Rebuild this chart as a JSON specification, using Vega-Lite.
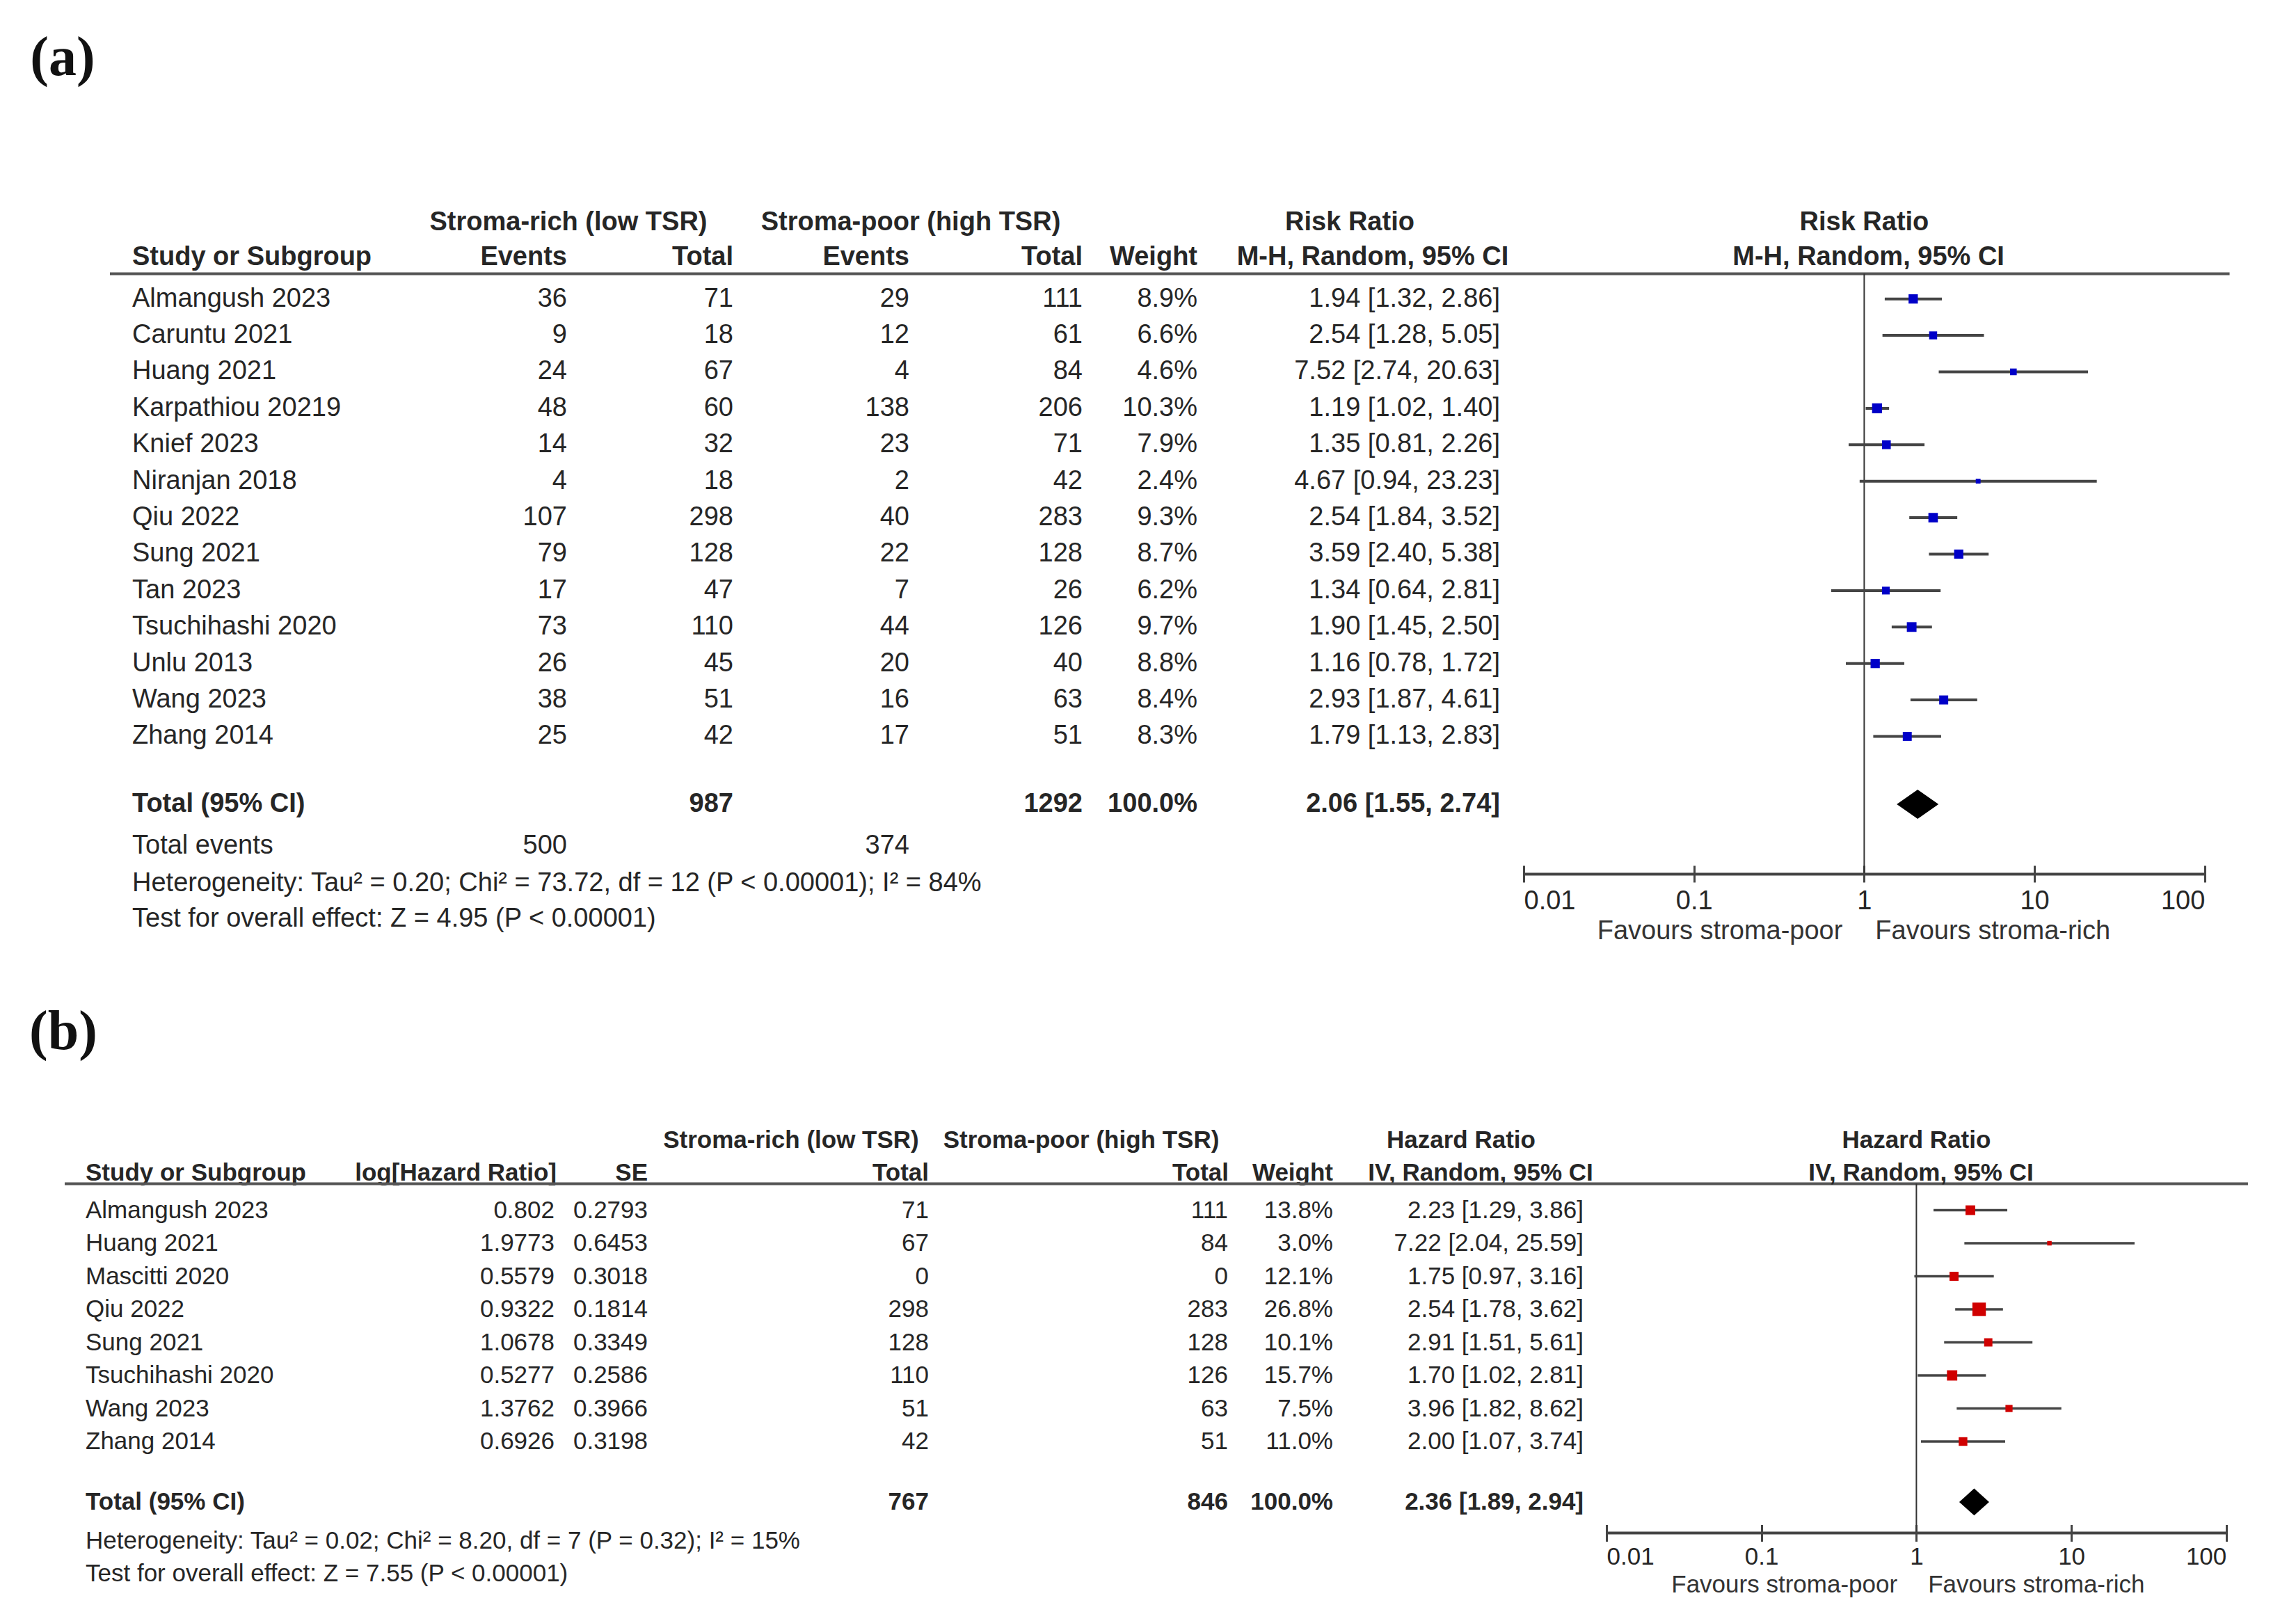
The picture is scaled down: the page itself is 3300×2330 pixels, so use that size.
{
"$schema":"https://vega.github.io/schema/vega-lite/v6.json",
"padding":0,
"background":"white",
"spacing":0,
"config":{"view":{"stroke":null},"text":{"font":"Liberation Sans","color":"#262626","baseline":"middle"},"axis":{"grid":false}},
"datasets":{
"a_studies":[
{"study":"Almangush 2023","ev1":36,"tot1":71,"ev2":29,"tot2":111,"weight":0.089,"est":1.94,"lo":1.32,"hi":2.86,"ci":"1.94 [1.32, 2.86]","order":1},
{"study":"Caruntu 2021","ev1":9,"tot1":18,"ev2":12,"tot2":61,"weight":0.066,"est":2.54,"lo":1.28,"hi":5.05,"ci":"2.54 [1.28, 5.05]","order":2},
{"study":"Huang 2021","ev1":24,"tot1":67,"ev2":4,"tot2":84,"weight":0.046,"est":7.52,"lo":2.74,"hi":20.63,"ci":"7.52 [2.74, 20.63]","order":3},
{"study":"Karpathiou 20219","ev1":48,"tot1":60,"ev2":138,"tot2":206,"weight":0.103,"est":1.19,"lo":1.02,"hi":1.40,"ci":"1.19 [1.02, 1.40]","order":4},
{"study":"Knief 2023","ev1":14,"tot1":32,"ev2":23,"tot2":71,"weight":0.079,"est":1.35,"lo":0.81,"hi":2.26,"ci":"1.35 [0.81, 2.26]","order":5},
{"study":"Niranjan 2018","ev1":4,"tot1":18,"ev2":2,"tot2":42,"weight":0.024,"est":4.67,"lo":0.94,"hi":23.23,"ci":"4.67 [0.94, 23.23]","order":6},
{"study":"Qiu 2022","ev1":107,"tot1":298,"ev2":40,"tot2":283,"weight":0.093,"est":2.54,"lo":1.84,"hi":3.52,"ci":"2.54 [1.84, 3.52]","order":7},
{"study":"Sung 2021","ev1":79,"tot1":128,"ev2":22,"tot2":128,"weight":0.087,"est":3.59,"lo":2.40,"hi":5.38,"ci":"3.59 [2.40, 5.38]","order":8},
{"study":"Tan 2023","ev1":17,"tot1":47,"ev2":7,"tot2":26,"weight":0.062,"est":1.34,"lo":0.64,"hi":2.81,"ci":"1.34 [0.64, 2.81]","order":9},
{"study":"Tsuchihashi 2020","ev1":73,"tot1":110,"ev2":44,"tot2":126,"weight":0.097,"est":1.90,"lo":1.45,"hi":2.50,"ci":"1.90 [1.45, 2.50]","order":10},
{"study":"Unlu 2013","ev1":26,"tot1":45,"ev2":20,"tot2":40,"weight":0.088,"est":1.16,"lo":0.78,"hi":1.72,"ci":"1.16 [0.78, 1.72]","order":11},
{"study":"Wang 2023","ev1":38,"tot1":51,"ev2":16,"tot2":63,"weight":0.084,"est":2.93,"lo":1.87,"hi":4.61,"ci":"2.93 [1.87, 4.61]","order":12},
{"study":"Zhang 2014","ev1":25,"tot1":42,"ev2":17,"tot2":51,"weight":0.083,"est":1.79,"lo":1.13,"hi":2.83,"ci":"1.79 [1.13, 2.83]","order":13}
],
"a_total":[{"label":"Total (95% CI)","tot1":987,"tot2":1292,"weight":1.0,"est":2.06,"lo":1.55,"hi":2.74,"ci":"2.06 [1.55, 2.74]"}],
"a_events":[{"label":"Total events","ev1":500,"ev2":374}],
"b_studies":[
{"study":"Almangush 2023","loghr":0.802,"se":0.2793,"tot1":71,"tot2":111,"weight":0.138,"est":2.23,"lo":1.29,"hi":3.86,"ci":"2.23 [1.29, 3.86]","order":1},
{"study":"Huang 2021","loghr":1.9773,"se":0.6453,"tot1":67,"tot2":84,"weight":0.030,"est":7.22,"lo":2.04,"hi":25.59,"ci":"7.22 [2.04, 25.59]","order":2},
{"study":"Mascitti 2020","loghr":0.5579,"se":0.3018,"tot1":0,"tot2":0,"weight":0.121,"est":1.75,"lo":0.97,"hi":3.16,"ci":"1.75 [0.97, 3.16]","order":3},
{"study":"Qiu 2022","loghr":0.9322,"se":0.1814,"tot1":298,"tot2":283,"weight":0.268,"est":2.54,"lo":1.78,"hi":3.62,"ci":"2.54 [1.78, 3.62]","order":4},
{"study":"Sung 2021","loghr":1.0678,"se":0.3349,"tot1":128,"tot2":128,"weight":0.101,"est":2.91,"lo":1.51,"hi":5.61,"ci":"2.91 [1.51, 5.61]","order":5},
{"study":"Tsuchihashi 2020","loghr":0.5277,"se":0.2586,"tot1":110,"tot2":126,"weight":0.157,"est":1.70,"lo":1.02,"hi":2.81,"ci":"1.70 [1.02, 2.81]","order":6},
{"study":"Wang 2023","loghr":1.3762,"se":0.3966,"tot1":51,"tot2":63,"weight":0.075,"est":3.96,"lo":1.82,"hi":8.62,"ci":"3.96 [1.82, 8.62]","order":7},
{"study":"Zhang 2014","loghr":0.6926,"se":0.3198,"tot1":42,"tot2":51,"weight":0.110,"est":2.00,"lo":1.07,"hi":3.74,"ci":"2.00 [1.07, 3.74]","order":8}
],
"b_total":[{"label":"Total (95% CI)","tot1":767,"tot2":846,"weight":1.0,"est":2.36,"lo":1.89,"hi":2.94,"ci":"2.36 [1.89, 2.94]"}]
},
"resolve":{"scale":{"x":"independent","y":"independent","size":"independent"}},
"vconcat":[
{"spacing":0,"bounds":"flush","resolve":{"scale":{"x":"independent","y":"independent","size":"independent"}},
"hconcat":[
{"width":2190,"height":1439.48,"data":{"values":[{}]},"layer":[
{"mark":{"type":"text","align":"center","font":"Liberation Serif","fontWeight":"bold","fontSize":80,"color":"#111111"},"encoding":{"x":{"datum":90,"type":"quantitative","scale":{"domain":[0,2190],"nice":false,"zero":false},"axis":null},"y":{"datum":-5.6,"type":"quantitative","scale":{"domain":[-7.2,20.271],"reverse":true,"nice":false,"zero":false},"axis":null},"text":{"value":"(a)"}}},
{"mark":{"type":"text","align":"center","fontSize":38,"fontWeight":"bold"},"encoding":{"x":{"datum":817,"type":"quantitative","scale":{"domain":[0,2190],"nice":false,"zero":false},"axis":null},"y":{"datum":-1.09,"type":"quantitative","scale":{"domain":[-7.2,20.271],"reverse":true,"nice":false,"zero":false},"axis":null},"text":{"value":"Stroma-rich (low TSR)"}}},
{"mark":{"type":"text","align":"center","fontSize":38,"fontWeight":"bold"},"encoding":{"x":{"datum":1309,"type":"quantitative","scale":{"domain":[0,2190],"nice":false,"zero":false},"axis":null},"y":{"datum":-1.09,"type":"quantitative","scale":{"domain":[-7.2,20.271],"reverse":true,"nice":false,"zero":false},"axis":null},"text":{"value":"Stroma-poor (high TSR)"}}},
{"mark":{"type":"text","align":"center","fontSize":38,"fontWeight":"bold"},"encoding":{"x":{"datum":1940,"type":"quantitative","scale":{"domain":[0,2190],"nice":false,"zero":false},"axis":null},"y":{"datum":-1.09,"type":"quantitative","scale":{"domain":[-7.2,20.271],"reverse":true,"nice":false,"zero":false},"axis":null},"text":{"value":"Risk Ratio"}}},
{"mark":{"type":"text","align":"left","fontSize":38,"fontWeight":"bold"},"encoding":{"x":{"datum":190,"type":"quantitative","scale":{"domain":[0,2190],"nice":false,"zero":false},"axis":null},"y":{"datum":-0.14,"type":"quantitative","scale":{"domain":[-7.2,20.271],"reverse":true,"nice":false,"zero":false},"axis":null},"text":{"value":"Study or Subgroup"}}},
{"mark":{"type":"text","align":"right","fontSize":38,"fontWeight":"bold"},"encoding":{"x":{"datum":815,"type":"quantitative","scale":{"domain":[0,2190],"nice":false,"zero":false},"axis":null},"y":{"datum":-0.14,"type":"quantitative","scale":{"domain":[-7.2,20.271],"reverse":true,"nice":false,"zero":false},"axis":null},"text":{"value":"Events"}}},
{"mark":{"type":"text","align":"right","fontSize":38,"fontWeight":"bold"},"encoding":{"x":{"datum":1054,"type":"quantitative","scale":{"domain":[0,2190],"nice":false,"zero":false},"axis":null},"y":{"datum":-0.14,"type":"quantitative","scale":{"domain":[-7.2,20.271],"reverse":true,"nice":false,"zero":false},"axis":null},"text":{"value":"Total"}}},
{"mark":{"type":"text","align":"right","fontSize":38,"fontWeight":"bold"},"encoding":{"x":{"datum":1307,"type":"quantitative","scale":{"domain":[0,2190],"nice":false,"zero":false},"axis":null},"y":{"datum":-0.14,"type":"quantitative","scale":{"domain":[-7.2,20.271],"reverse":true,"nice":false,"zero":false},"axis":null},"text":{"value":"Events"}}},
{"mark":{"type":"text","align":"right","fontSize":38,"fontWeight":"bold"},"encoding":{"x":{"datum":1556,"type":"quantitative","scale":{"domain":[0,2190],"nice":false,"zero":false},"axis":null},"y":{"datum":-0.14,"type":"quantitative","scale":{"domain":[-7.2,20.271],"reverse":true,"nice":false,"zero":false},"axis":null},"text":{"value":"Total"}}},
{"mark":{"type":"text","align":"right","fontSize":38,"fontWeight":"bold"},"encoding":{"x":{"datum":1721,"type":"quantitative","scale":{"domain":[0,2190],"nice":false,"zero":false},"axis":null},"y":{"datum":-0.14,"type":"quantitative","scale":{"domain":[-7.2,20.271],"reverse":true,"nice":false,"zero":false},"axis":null},"text":{"value":"Weight"}}},
{"mark":{"type":"text","align":"center","fontSize":38,"fontWeight":"bold"},"encoding":{"x":{"datum":1973,"type":"quantitative","scale":{"domain":[0,2190],"nice":false,"zero":false},"axis":null},"y":{"datum":-0.14,"type":"quantitative","scale":{"domain":[-7.2,20.271],"reverse":true,"nice":false,"zero":false},"axis":null},"text":{"value":"M-H, Random, 95% CI"}}},
{"mark":{"type":"rule","stroke":"#555555","strokeWidth":4},"encoding":{"x":{"datum":158,"type":"quantitative","scale":{"domain":[0,2190],"nice":false,"zero":false},"axis":null},"x2":{"datum":2190},"y":{"datum":0.31,"type":"quantitative","scale":{"domain":[-7.2,20.271],"reverse":true,"nice":false,"zero":false},"axis":null}}},
{"data":{"name":"a_studies"},"mark":{"type":"text","align":"left","fontSize":38},"encoding":{"x":{"datum":190,"type":"quantitative","scale":{"domain":[0,2190],"nice":false,"zero":false},"axis":null},"y":{"field":"order","type":"quantitative","scale":{"domain":[-7.2,20.271],"reverse":true,"nice":false,"zero":false},"axis":null},"text":{"field":"study","type":"nominal"}}},
{"data":{"name":"a_studies"},"mark":{"type":"text","align":"right","fontSize":38},"encoding":{"x":{"datum":815,"type":"quantitative","scale":{"domain":[0,2190],"nice":false,"zero":false},"axis":null},"y":{"field":"order","type":"quantitative","scale":{"domain":[-7.2,20.271],"reverse":true,"nice":false,"zero":false},"axis":null},"text":{"field":"ev1","type":"nominal"}}},
{"data":{"name":"a_studies"},"mark":{"type":"text","align":"right","fontSize":38},"encoding":{"x":{"datum":1054,"type":"quantitative","scale":{"domain":[0,2190],"nice":false,"zero":false},"axis":null},"y":{"field":"order","type":"quantitative","scale":{"domain":[-7.2,20.271],"reverse":true,"nice":false,"zero":false},"axis":null},"text":{"field":"tot1","type":"nominal"}}},
{"data":{"name":"a_studies"},"mark":{"type":"text","align":"right","fontSize":38},"encoding":{"x":{"datum":1307,"type":"quantitative","scale":{"domain":[0,2190],"nice":false,"zero":false},"axis":null},"y":{"field":"order","type":"quantitative","scale":{"domain":[-7.2,20.271],"reverse":true,"nice":false,"zero":false},"axis":null},"text":{"field":"ev2","type":"nominal"}}},
{"data":{"name":"a_studies"},"mark":{"type":"text","align":"right","fontSize":38},"encoding":{"x":{"datum":1556,"type":"quantitative","scale":{"domain":[0,2190],"nice":false,"zero":false},"axis":null},"y":{"field":"order","type":"quantitative","scale":{"domain":[-7.2,20.271],"reverse":true,"nice":false,"zero":false},"axis":null},"text":{"field":"tot2","type":"nominal"}}},
{"data":{"name":"a_studies"},"mark":{"type":"text","align":"right","fontSize":38},"encoding":{"x":{"datum":1721,"type":"quantitative","scale":{"domain":[0,2190],"nice":false,"zero":false},"axis":null},"y":{"field":"order","type":"quantitative","scale":{"domain":[-7.2,20.271],"reverse":true,"nice":false,"zero":false},"axis":null},"text":{"field":"weight","type":"quantitative","format":".1%"}}},
{"data":{"name":"a_studies"},"mark":{"type":"text","align":"right","fontSize":38},"encoding":{"x":{"datum":2156,"type":"quantitative","scale":{"domain":[0,2190],"nice":false,"zero":false},"axis":null},"y":{"field":"order","type":"quantitative","scale":{"domain":[-7.2,20.271],"reverse":true,"nice":false,"zero":false},"axis":null},"text":{"field":"ci","type":"nominal"}}},
{"data":{"name":"a_total"},"mark":{"type":"text","align":"left","fontSize":38,"fontWeight":"bold"},"encoding":{"x":{"datum":190,"type":"quantitative","scale":{"domain":[0,2190],"nice":false,"zero":false},"axis":null},"y":{"datum":14.86,"type":"quantitative","scale":{"domain":[-7.2,20.271],"reverse":true,"nice":false,"zero":false},"axis":null},"text":{"field":"label","type":"nominal"}}},
{"data":{"name":"a_total"},"mark":{"type":"text","align":"right","fontSize":38,"fontWeight":"bold"},"encoding":{"x":{"datum":1054,"type":"quantitative","scale":{"domain":[0,2190],"nice":false,"zero":false},"axis":null},"y":{"datum":14.86,"type":"quantitative","scale":{"domain":[-7.2,20.271],"reverse":true,"nice":false,"zero":false},"axis":null},"text":{"field":"tot1","type":"nominal"}}},
{"data":{"name":"a_total"},"mark":{"type":"text","align":"right","fontSize":38,"fontWeight":"bold"},"encoding":{"x":{"datum":1556,"type":"quantitative","scale":{"domain":[0,2190],"nice":false,"zero":false},"axis":null},"y":{"datum":14.86,"type":"quantitative","scale":{"domain":[-7.2,20.271],"reverse":true,"nice":false,"zero":false},"axis":null},"text":{"field":"tot2","type":"nominal"}}},
{"data":{"name":"a_total"},"mark":{"type":"text","align":"right","fontSize":38,"fontWeight":"bold"},"encoding":{"x":{"datum":1721,"type":"quantitative","scale":{"domain":[0,2190],"nice":false,"zero":false},"axis":null},"y":{"datum":14.86,"type":"quantitative","scale":{"domain":[-7.2,20.271],"reverse":true,"nice":false,"zero":false},"axis":null},"text":{"field":"weight","type":"quantitative","format":".1%"}}},
{"data":{"name":"a_total"},"mark":{"type":"text","align":"right","fontSize":38,"fontWeight":"bold"},"encoding":{"x":{"datum":2156,"type":"quantitative","scale":{"domain":[0,2190],"nice":false,"zero":false},"axis":null},"y":{"datum":14.86,"type":"quantitative","scale":{"domain":[-7.2,20.271],"reverse":true,"nice":false,"zero":false},"axis":null},"text":{"field":"ci","type":"nominal"}}},
{"data":{"name":"a_events"},"mark":{"type":"text","align":"left","fontSize":38},"encoding":{"x":{"datum":190,"type":"quantitative","scale":{"domain":[0,2190],"nice":false,"zero":false},"axis":null},"y":{"datum":16.0,"type":"quantitative","scale":{"domain":[-7.2,20.271],"reverse":true,"nice":false,"zero":false},"axis":null},"text":{"field":"label","type":"nominal"}}},
{"data":{"name":"a_events"},"mark":{"type":"text","align":"right","fontSize":38},"encoding":{"x":{"datum":815,"type":"quantitative","scale":{"domain":[0,2190],"nice":false,"zero":false},"axis":null},"y":{"datum":16.0,"type":"quantitative","scale":{"domain":[-7.2,20.271],"reverse":true,"nice":false,"zero":false},"axis":null},"text":{"field":"ev1","type":"nominal"}}},
{"data":{"name":"a_events"},"mark":{"type":"text","align":"right","fontSize":38},"encoding":{"x":{"datum":1307,"type":"quantitative","scale":{"domain":[0,2190],"nice":false,"zero":false},"axis":null},"y":{"datum":16.0,"type":"quantitative","scale":{"domain":[-7.2,20.271],"reverse":true,"nice":false,"zero":false},"axis":null},"text":{"field":"ev2","type":"nominal"}}},
{"mark":{"type":"text","align":"left","fontSize":38},"encoding":{"x":{"datum":190,"type":"quantitative","scale":{"domain":[0,2190],"nice":false,"zero":false},"axis":null},"y":{"datum":17.03,"type":"quantitative","scale":{"domain":[-7.2,20.271],"reverse":true,"nice":false,"zero":false},"axis":null},"text":{"value":"Heterogeneity: Tau² = 0.20; Chi² = 73.72, df = 12 (P < 0.00001); I² = 84%"}}},
{"mark":{"type":"text","align":"left","fontSize":38},"encoding":{"x":{"datum":190,"type":"quantitative","scale":{"domain":[0,2190],"nice":false,"zero":false},"axis":null},"y":{"datum":18.01,"type":"quantitative","scale":{"domain":[-7.2,20.271],"reverse":true,"nice":false,"zero":false},"axis":null},"text":{"value":"Test for overall effect: Z = 4.95 (P < 0.00001)"}}}
]},
{"width":1014.56,"height":1439.48,"data":{"values":[{}]},"layer":[
{"mark":{"type":"rule","stroke":"#555555","strokeWidth":4},"encoding":{"x":{"datum":0.01,"type":"quantitative","scale":{"type":"log","domain":[0.01,140],"nice":false},"axis":{"values":[0.01,0.1,1,10,100],"format":"~g","domain":false,"grid":false,"ticks":true,"tickSize":24,"tickWidth":3,"tickColor":"#444444","labelFont":"Liberation Sans","labelFontSize":38,"labelColor":"#262626","labelPadding":8.6,"labelFlush":40,"labelOverlap":false,"labelBound":false,"offset":-195.48,"title":null}},"x2":{"datum":140},"y":{"datum":0.31,"type":"quantitative","scale":{"domain":[-7.2,20.271],"reverse":true,"nice":false,"zero":false},"axis":null}}},
{"mark":{"type":"rule","stroke":"#333333","strokeWidth":2},"encoding":{"x":{"datum":1,"type":"quantitative","scale":{"type":"log","domain":[0.01,140],"nice":false},"axis":{"values":[0.01,0.1,1,10,100],"format":"~g","domain":false,"grid":false,"ticks":true,"tickSize":24,"tickWidth":3,"tickColor":"#444444","labelFont":"Liberation Sans","labelFontSize":38,"labelColor":"#262626","labelPadding":8.6,"labelFlush":40,"labelOverlap":false,"labelBound":false,"offset":-195.48,"title":null}},"y":{"datum":0.31,"type":"quantitative","scale":{"domain":[-7.2,20.271],"reverse":true,"nice":false,"zero":false},"axis":null},"y2":{"datum":16.78}}},
{"mark":{"type":"rule","stroke":"#444444","strokeWidth":4},"encoding":{"x":{"datum":0.01,"type":"quantitative","scale":{"type":"log","domain":[0.01,140],"nice":false},"axis":{"values":[0.01,0.1,1,10,100],"format":"~g","domain":false,"grid":false,"ticks":true,"tickSize":24,"tickWidth":3,"tickColor":"#444444","labelFont":"Liberation Sans","labelFontSize":38,"labelColor":"#262626","labelPadding":8.6,"labelFlush":40,"labelOverlap":false,"labelBound":false,"offset":-195.48,"title":null}},"x2":{"datum":100},"y":{"datum":16.78,"type":"quantitative","scale":{"domain":[-7.2,20.271],"reverse":true,"nice":false,"zero":false},"axis":null}}},
{"data":{"name":"a_studies"},"mark":{"type":"rule","stroke":"#454545","strokeWidth":4},"encoding":{"x":{"field":"lo","type":"quantitative","scale":{"type":"log","domain":[0.01,140],"nice":false},"axis":{"values":[0.01,0.1,1,10,100],"format":"~g","domain":false,"grid":false,"ticks":true,"tickSize":24,"tickWidth":3,"tickColor":"#444444","labelFont":"Liberation Sans","labelFontSize":38,"labelColor":"#262626","labelPadding":8.6,"labelFlush":40,"labelOverlap":false,"labelBound":false,"offset":-195.48,"title":null}},"x2":{"field":"hi"},"y":{"field":"order","type":"quantitative","scale":{"domain":[-7.2,20.271],"reverse":true,"nice":false,"zero":false},"axis":null}}},
{"data":{"name":"a_studies"},"mark":{"type":"point","shape":"square","filled":true,"color":"#0000c8","opacity":1},"encoding":{"x":{"field":"est","type":"quantitative","scale":{"type":"log","domain":[0.01,140],"nice":false},"axis":{"values":[0.01,0.1,1,10,100],"format":"~g","domain":false,"grid":false,"ticks":true,"tickSize":24,"tickWidth":3,"tickColor":"#444444","labelFont":"Liberation Sans","labelFontSize":38,"labelColor":"#262626","labelPadding":8.6,"labelFlush":40,"labelOverlap":false,"labelBound":false,"offset":-195.48,"title":null}},"y":{"field":"order","type":"quantitative","scale":{"domain":[-7.2,20.271],"reverse":true,"nice":false,"zero":false},"axis":null},"size":{"field":"weight","type":"quantitative","scale":{"domain":[0,0.3],"range":[0,600]},"legend":null}}},
{"data":{"name":"a_total"},"mark":{"type":"point","shape":"M-1,0L0,-0.7L1,0L0,0.7Z","filled":true,"color":"#000000","size":3600,"opacity":1},"encoding":{"x":{"field":"est","type":"quantitative","scale":{"type":"log","domain":[0.01,140],"nice":false},"axis":{"values":[0.01,0.1,1,10,100],"format":"~g","domain":false,"grid":false,"ticks":true,"tickSize":24,"tickWidth":3,"tickColor":"#444444","labelFont":"Liberation Sans","labelFontSize":38,"labelColor":"#262626","labelPadding":8.6,"labelFlush":40,"labelOverlap":false,"labelBound":false,"offset":-195.48,"title":null}},"y":{"datum":14.86,"type":"quantitative","scale":{"domain":[-7.2,20.271],"reverse":true,"nice":false,"zero":false},"axis":null}}},
{"mark":{"type":"text","align":"center","fontSize":38,"fontWeight":"bold"},"encoding":{"x":{"datum":1,"type":"quantitative","scale":{"type":"log","domain":[0.01,140],"nice":false},"axis":{"values":[0.01,0.1,1,10,100],"format":"~g","domain":false,"grid":false,"ticks":true,"tickSize":24,"tickWidth":3,"tickColor":"#444444","labelFont":"Liberation Sans","labelFontSize":38,"labelColor":"#262626","labelPadding":8.6,"labelFlush":40,"labelOverlap":false,"labelBound":false,"offset":-195.48,"title":null}},"y":{"datum":-1.09,"type":"quantitative","scale":{"domain":[-7.2,20.271],"reverse":true,"nice":false,"zero":false},"axis":null},"text":{"value":"Risk Ratio"}}},
{"mark":{"type":"text","align":"center","fontSize":38,"fontWeight":"bold"},"encoding":{"x":{"datum":1.06,"type":"quantitative","scale":{"type":"log","domain":[0.01,140],"nice":false},"axis":{"values":[0.01,0.1,1,10,100],"format":"~g","domain":false,"grid":false,"ticks":true,"tickSize":24,"tickWidth":3,"tickColor":"#444444","labelFont":"Liberation Sans","labelFontSize":38,"labelColor":"#262626","labelPadding":8.6,"labelFlush":40,"labelOverlap":false,"labelBound":false,"offset":-195.48,"title":null}},"y":{"datum":-0.14,"type":"quantitative","scale":{"domain":[-7.2,20.271],"reverse":true,"nice":false,"zero":false},"axis":null},"text":{"value":"M-H, Random, 95% CI"}}},
{"mark":{"type":"text","align":"right","fontSize":38,"color":"#333333"},"encoding":{"x":{"datum":0.747,"type":"quantitative","scale":{"type":"log","domain":[0.01,140],"nice":false},"axis":{"values":[0.01,0.1,1,10,100],"format":"~g","domain":false,"grid":false,"ticks":true,"tickSize":24,"tickWidth":3,"tickColor":"#444444","labelFont":"Liberation Sans","labelFontSize":38,"labelColor":"#262626","labelPadding":8.6,"labelFlush":40,"labelOverlap":false,"labelBound":false,"offset":-195.48,"title":null}},"y":{"datum":18.35,"type":"quantitative","scale":{"domain":[-7.2,20.271],"reverse":true,"nice":false,"zero":false},"axis":null},"text":{"value":"Favours stroma-poor"}}},
{"mark":{"type":"text","align":"left","fontSize":38,"color":"#333333"},"encoding":{"x":{"datum":1.162,"type":"quantitative","scale":{"type":"log","domain":[0.01,140],"nice":false},"axis":{"values":[0.01,0.1,1,10,100],"format":"~g","domain":false,"grid":false,"ticks":true,"tickSize":24,"tickWidth":3,"tickColor":"#444444","labelFont":"Liberation Sans","labelFontSize":38,"labelColor":"#262626","labelPadding":8.6,"labelFlush":40,"labelOverlap":false,"labelBound":false,"offset":-195.48,"title":null}},"y":{"datum":18.35,"type":"quantitative","scale":{"domain":[-7.2,20.271],"reverse":true,"nice":false,"zero":false},"axis":null},"text":{"value":"Favours stroma-rich"}}}
]}
]},
{"spacing":0,"bounds":"flush","resolve":{"scale":{"x":"independent","y":"independent","size":"independent"}},
"hconcat":[
{"width":2309,"height":883.77,"data":{"values":[{}]},"layer":[
{"mark":{"type":"text","align":"center","font":"Liberation Serif","fontWeight":"bold","fontSize":80,"color":"#111111"},"encoding":{"x":{"datum":91,"type":"quantitative","scale":{"domain":[0,2309],"nice":false,"zero":false},"axis":null},"y":{"datum":-4.37,"type":"quantitative","scale":{"domain":[-5.3057,13.3],"reverse":true,"nice":false,"zero":false},"axis":null},"text":{"value":"(b)"}}},
{"mark":{"type":"text","align":"center","fontSize":35,"fontWeight":"bold"},"encoding":{"x":{"datum":1137,"type":"quantitative","scale":{"domain":[0,2309],"nice":false,"zero":false},"axis":null},"y":{"datum":-1.12,"type":"quantitative","scale":{"domain":[-5.3057,13.3],"reverse":true,"nice":false,"zero":false},"axis":null},"text":{"value":"Stroma-rich (low TSR)"}}},
{"mark":{"type":"text","align":"center","fontSize":35,"fontWeight":"bold"},"encoding":{"x":{"datum":1554,"type":"quantitative","scale":{"domain":[0,2309],"nice":false,"zero":false},"axis":null},"y":{"datum":-1.12,"type":"quantitative","scale":{"domain":[-5.3057,13.3],"reverse":true,"nice":false,"zero":false},"axis":null},"text":{"value":"Stroma-poor (high TSR)"}}},
{"mark":{"type":"text","align":"center","fontSize":35,"fontWeight":"bold"},"encoding":{"x":{"datum":2100,"type":"quantitative","scale":{"domain":[0,2309],"nice":false,"zero":false},"axis":null},"y":{"datum":-1.12,"type":"quantitative","scale":{"domain":[-5.3057,13.3],"reverse":true,"nice":false,"zero":false},"axis":null},"text":{"value":"Hazard Ratio"}}},
{"mark":{"type":"text","align":"left","fontSize":35,"fontWeight":"bold"},"encoding":{"x":{"datum":123,"type":"quantitative","scale":{"domain":[0,2309],"nice":false,"zero":false},"axis":null},"y":{"datum":-0.13,"type":"quantitative","scale":{"domain":[-5.3057,13.3],"reverse":true,"nice":false,"zero":false},"axis":null},"text":{"value":"Study or Subgroup"}}},
{"mark":{"type":"text","align":"right","fontSize":35,"fontWeight":"bold"},"encoding":{"x":{"datum":800,"type":"quantitative","scale":{"domain":[0,2309],"nice":false,"zero":false},"axis":null},"y":{"datum":-0.13,"type":"quantitative","scale":{"domain":[-5.3057,13.3],"reverse":true,"nice":false,"zero":false},"axis":null},"text":{"value":"log[Hazard Ratio]"}}},
{"mark":{"type":"text","align":"right","fontSize":35,"fontWeight":"bold"},"encoding":{"x":{"datum":931,"type":"quantitative","scale":{"domain":[0,2309],"nice":false,"zero":false},"axis":null},"y":{"datum":-0.13,"type":"quantitative","scale":{"domain":[-5.3057,13.3],"reverse":true,"nice":false,"zero":false},"axis":null},"text":{"value":"SE"}}},
{"mark":{"type":"text","align":"right","fontSize":35,"fontWeight":"bold"},"encoding":{"x":{"datum":1335,"type":"quantitative","scale":{"domain":[0,2309],"nice":false,"zero":false},"axis":null},"y":{"datum":-0.13,"type":"quantitative","scale":{"domain":[-5.3057,13.3],"reverse":true,"nice":false,"zero":false},"axis":null},"text":{"value":"Total"}}},
{"mark":{"type":"text","align":"right","fontSize":35,"fontWeight":"bold"},"encoding":{"x":{"datum":1766,"type":"quantitative","scale":{"domain":[0,2309],"nice":false,"zero":false},"axis":null},"y":{"datum":-0.13,"type":"quantitative","scale":{"domain":[-5.3057,13.3],"reverse":true,"nice":false,"zero":false},"axis":null},"text":{"value":"Total"}}},
{"mark":{"type":"text","align":"right","fontSize":35,"fontWeight":"bold"},"encoding":{"x":{"datum":1916,"type":"quantitative","scale":{"domain":[0,2309],"nice":false,"zero":false},"axis":null},"y":{"datum":-0.13,"type":"quantitative","scale":{"domain":[-5.3057,13.3],"reverse":true,"nice":false,"zero":false},"axis":null},"text":{"value":"Weight"}}},
{"mark":{"type":"text","align":"center","fontSize":35,"fontWeight":"bold"},"encoding":{"x":{"datum":2128,"type":"quantitative","scale":{"domain":[0,2309],"nice":false,"zero":false},"axis":null},"y":{"datum":-0.13,"type":"quantitative","scale":{"domain":[-5.3057,13.3],"reverse":true,"nice":false,"zero":false},"axis":null},"text":{"value":"IV, Random, 95% CI"}}},
{"mark":{"type":"rule","stroke":"#555555","strokeWidth":4},"encoding":{"x":{"datum":93,"type":"quantitative","scale":{"domain":[0,2309],"nice":false,"zero":false},"axis":null},"x2":{"datum":2309},"y":{"datum":0.2,"type":"quantitative","scale":{"domain":[-5.3057,13.3],"reverse":true,"nice":false,"zero":false},"axis":null}}},
{"data":{"name":"b_studies"},"mark":{"type":"text","align":"left","fontSize":35},"encoding":{"x":{"datum":123,"type":"quantitative","scale":{"domain":[0,2309],"nice":false,"zero":false},"axis":null},"y":{"field":"order","type":"quantitative","scale":{"domain":[-5.3057,13.3],"reverse":true,"nice":false,"zero":false},"axis":null},"text":{"field":"study","type":"nominal"}}},
{"data":{"name":"b_studies"},"mark":{"type":"text","align":"right","fontSize":35},"encoding":{"x":{"datum":797,"type":"quantitative","scale":{"domain":[0,2309],"nice":false,"zero":false},"axis":null},"y":{"field":"order","type":"quantitative","scale":{"domain":[-5.3057,13.3],"reverse":true,"nice":false,"zero":false},"axis":null},"text":{"field":"loghr","type":"nominal"}}},
{"data":{"name":"b_studies"},"mark":{"type":"text","align":"right","fontSize":35},"encoding":{"x":{"datum":931,"type":"quantitative","scale":{"domain":[0,2309],"nice":false,"zero":false},"axis":null},"y":{"field":"order","type":"quantitative","scale":{"domain":[-5.3057,13.3],"reverse":true,"nice":false,"zero":false},"axis":null},"text":{"field":"se","type":"nominal"}}},
{"data":{"name":"b_studies"},"mark":{"type":"text","align":"right","fontSize":35},"encoding":{"x":{"datum":1335,"type":"quantitative","scale":{"domain":[0,2309],"nice":false,"zero":false},"axis":null},"y":{"field":"order","type":"quantitative","scale":{"domain":[-5.3057,13.3],"reverse":true,"nice":false,"zero":false},"axis":null},"text":{"field":"tot1","type":"nominal"}}},
{"data":{"name":"b_studies"},"mark":{"type":"text","align":"right","fontSize":35},"encoding":{"x":{"datum":1765,"type":"quantitative","scale":{"domain":[0,2309],"nice":false,"zero":false},"axis":null},"y":{"field":"order","type":"quantitative","scale":{"domain":[-5.3057,13.3],"reverse":true,"nice":false,"zero":false},"axis":null},"text":{"field":"tot2","type":"nominal"}}},
{"data":{"name":"b_studies"},"mark":{"type":"text","align":"right","fontSize":35},"encoding":{"x":{"datum":1916,"type":"quantitative","scale":{"domain":[0,2309],"nice":false,"zero":false},"axis":null},"y":{"field":"order","type":"quantitative","scale":{"domain":[-5.3057,13.3],"reverse":true,"nice":false,"zero":false},"axis":null},"text":{"field":"weight","type":"quantitative","format":".1%"}}},
{"data":{"name":"b_studies"},"mark":{"type":"text","align":"right","fontSize":35},"encoding":{"x":{"datum":2276,"type":"quantitative","scale":{"domain":[0,2309],"nice":false,"zero":false},"axis":null},"y":{"field":"order","type":"quantitative","scale":{"domain":[-5.3057,13.3],"reverse":true,"nice":false,"zero":false},"axis":null},"text":{"field":"ci","type":"nominal"}}},
{"data":{"name":"b_total"},"mark":{"type":"text","align":"left","fontSize":35,"fontWeight":"bold"},"encoding":{"x":{"datum":123,"type":"quantitative","scale":{"domain":[0,2309],"nice":false,"zero":false},"axis":null},"y":{"datum":9.83,"type":"quantitative","scale":{"domain":[-5.3057,13.3],"reverse":true,"nice":false,"zero":false},"axis":null},"text":{"field":"label","type":"nominal"}}},
{"data":{"name":"b_total"},"mark":{"type":"text","align":"right","fontSize":35,"fontWeight":"bold"},"encoding":{"x":{"datum":1335,"type":"quantitative","scale":{"domain":[0,2309],"nice":false,"zero":false},"axis":null},"y":{"datum":9.83,"type":"quantitative","scale":{"domain":[-5.3057,13.3],"reverse":true,"nice":false,"zero":false},"axis":null},"text":{"field":"tot1","type":"nominal"}}},
{"data":{"name":"b_total"},"mark":{"type":"text","align":"right","fontSize":35,"fontWeight":"bold"},"encoding":{"x":{"datum":1765,"type":"quantitative","scale":{"domain":[0,2309],"nice":false,"zero":false},"axis":null},"y":{"datum":9.83,"type":"quantitative","scale":{"domain":[-5.3057,13.3],"reverse":true,"nice":false,"zero":false},"axis":null},"text":{"field":"tot2","type":"nominal"}}},
{"data":{"name":"b_total"},"mark":{"type":"text","align":"right","fontSize":35,"fontWeight":"bold"},"encoding":{"x":{"datum":1916,"type":"quantitative","scale":{"domain":[0,2309],"nice":false,"zero":false},"axis":null},"y":{"datum":9.83,"type":"quantitative","scale":{"domain":[-5.3057,13.3],"reverse":true,"nice":false,"zero":false},"axis":null},"text":{"field":"weight","type":"quantitative","format":".1%"}}},
{"data":{"name":"b_total"},"mark":{"type":"text","align":"right","fontSize":35,"fontWeight":"bold"},"encoding":{"x":{"datum":2276,"type":"quantitative","scale":{"domain":[0,2309],"nice":false,"zero":false},"axis":null},"y":{"datum":9.83,"type":"quantitative","scale":{"domain":[-5.3057,13.3],"reverse":true,"nice":false,"zero":false},"axis":null},"text":{"field":"ci","type":"nominal"}}},
{"mark":{"type":"text","align":"left","fontSize":35},"encoding":{"x":{"datum":123,"type":"quantitative","scale":{"domain":[0,2309],"nice":false,"zero":false},"axis":null},"y":{"datum":11.02,"type":"quantitative","scale":{"domain":[-5.3057,13.3],"reverse":true,"nice":false,"zero":false},"axis":null},"text":{"value":"Heterogeneity: Tau² = 0.02; Chi² = 8.20, df = 7 (P = 0.32); I² = 15%"}}},
{"mark":{"type":"text","align":"left","fontSize":35},"encoding":{"x":{"datum":123,"type":"quantitative","scale":{"domain":[0,2309],"nice":false,"zero":false},"axis":null},"y":{"datum":12.01,"type":"quantitative","scale":{"domain":[-5.3057,13.3],"reverse":true,"nice":false,"zero":false},"axis":null},"text":{"value":"Test for overall effect: Z = 7.55 (P < 0.00001)"}}}
]},
{"width":921.95,"height":883.77,"data":{"values":[{}]},"layer":[
{"mark":{"type":"rule","stroke":"#555555","strokeWidth":4},"encoding":{"x":{"datum":0.01,"type":"quantitative","scale":{"type":"log","domain":[0.01,138],"nice":false},"axis":{"values":[0.01,0.1,1,10,100],"format":"~g","domain":false,"grid":false,"ticks":true,"tickSize":24,"tickWidth":3,"tickColor":"#444444","labelFont":"Liberation Sans","labelFontSize":35,"labelColor":"#262626","labelPadding":5,"labelFlush":35,"labelOverlap":false,"labelBound":false,"offset":-132.25,"title":null}},"x2":{"datum":138},"y":{"datum":0.2,"type":"quantitative","scale":{"domain":[-5.3057,13.3],"reverse":true,"nice":false,"zero":false},"axis":null}}},
{"mark":{"type":"rule","stroke":"#333333","strokeWidth":2},"encoding":{"x":{"datum":1,"type":"quantitative","scale":{"type":"log","domain":[0.01,138],"nice":false},"axis":{"values":[0.01,0.1,1,10,100],"format":"~g","domain":false,"grid":false,"ticks":true,"tickSize":24,"tickWidth":3,"tickColor":"#444444","labelFont":"Liberation Sans","labelFontSize":35,"labelColor":"#262626","labelPadding":5,"labelFlush":35,"labelOverlap":false,"labelBound":false,"offset":-132.25,"title":null}},"y":{"datum":0.2,"type":"quantitative","scale":{"domain":[-5.3057,13.3],"reverse":true,"nice":false,"zero":false},"axis":null},"y2":{"datum":10.77}}},
{"mark":{"type":"rule","stroke":"#444444","strokeWidth":4},"encoding":{"x":{"datum":0.01,"type":"quantitative","scale":{"type":"log","domain":[0.01,138],"nice":false},"axis":{"values":[0.01,0.1,1,10,100],"format":"~g","domain":false,"grid":false,"ticks":true,"tickSize":24,"tickWidth":3,"tickColor":"#444444","labelFont":"Liberation Sans","labelFontSize":35,"labelColor":"#262626","labelPadding":5,"labelFlush":35,"labelOverlap":false,"labelBound":false,"offset":-132.25,"title":null}},"x2":{"datum":100},"y":{"datum":10.77,"type":"quantitative","scale":{"domain":[-5.3057,13.3],"reverse":true,"nice":false,"zero":false},"axis":null}}},
{"data":{"name":"b_studies"},"mark":{"type":"rule","stroke":"#454545","strokeWidth":3.6},"encoding":{"x":{"field":"lo","type":"quantitative","scale":{"type":"log","domain":[0.01,138],"nice":false},"axis":{"values":[0.01,0.1,1,10,100],"format":"~g","domain":false,"grid":false,"ticks":true,"tickSize":24,"tickWidth":3,"tickColor":"#444444","labelFont":"Liberation Sans","labelFontSize":35,"labelColor":"#262626","labelPadding":5,"labelFlush":35,"labelOverlap":false,"labelBound":false,"offset":-132.25,"title":null}},"x2":{"field":"hi"},"y":{"field":"order","type":"quantitative","scale":{"domain":[-5.3057,13.3],"reverse":true,"nice":false,"zero":false},"axis":null}}},
{"data":{"name":"b_studies"},"mark":{"type":"point","shape":"square","filled":true,"color":"#d00000","opacity":1},"encoding":{"x":{"field":"est","type":"quantitative","scale":{"type":"log","domain":[0.01,138],"nice":false},"axis":{"values":[0.01,0.1,1,10,100],"format":"~g","domain":false,"grid":false,"ticks":true,"tickSize":24,"tickWidth":3,"tickColor":"#444444","labelFont":"Liberation Sans","labelFontSize":35,"labelColor":"#262626","labelPadding":5,"labelFlush":35,"labelOverlap":false,"labelBound":false,"offset":-132.25,"title":null}},"y":{"field":"order","type":"quantitative","scale":{"domain":[-5.3057,13.3],"reverse":true,"nice":false,"zero":false},"axis":null},"size":{"field":"weight","type":"quantitative","scale":{"domain":[0,0.3],"range":[0,420]},"legend":null}}},
{"data":{"name":"b_total"},"mark":{"type":"point","shape":"M-1,0L0,-0.9L1,0L0,0.9Z","filled":true,"color":"#000000","size":1849,"opacity":1},"encoding":{"x":{"field":"est","type":"quantitative","scale":{"type":"log","domain":[0.01,138],"nice":false},"axis":{"values":[0.01,0.1,1,10,100],"format":"~g","domain":false,"grid":false,"ticks":true,"tickSize":24,"tickWidth":3,"tickColor":"#444444","labelFont":"Liberation Sans","labelFontSize":35,"labelColor":"#262626","labelPadding":5,"labelFlush":35,"labelOverlap":false,"labelBound":false,"offset":-132.25,"title":null}},"y":{"datum":9.83,"type":"quantitative","scale":{"domain":[-5.3057,13.3],"reverse":true,"nice":false,"zero":false},"axis":null}}},
{"mark":{"type":"text","align":"center","fontSize":35,"fontWeight":"bold"},"encoding":{"x":{"datum":1,"type":"quantitative","scale":{"type":"log","domain":[0.01,138],"nice":false},"axis":{"values":[0.01,0.1,1,10,100],"format":"~g","domain":false,"grid":false,"ticks":true,"tickSize":24,"tickWidth":3,"tickColor":"#444444","labelFont":"Liberation Sans","labelFontSize":35,"labelColor":"#262626","labelPadding":5,"labelFlush":35,"labelOverlap":false,"labelBound":false,"offset":-132.25,"title":null}},"y":{"datum":-1.12,"type":"quantitative","scale":{"domain":[-5.3057,13.3],"reverse":true,"nice":false,"zero":false},"axis":null},"text":{"value":"Hazard Ratio"}}},
{"mark":{"type":"text","align":"center","fontSize":35,"fontWeight":"bold"},"encoding":{"x":{"datum":1.07,"type":"quantitative","scale":{"type":"log","domain":[0.01,138],"nice":false},"axis":{"values":[0.01,0.1,1,10,100],"format":"~g","domain":false,"grid":false,"ticks":true,"tickSize":24,"tickWidth":3,"tickColor":"#444444","labelFont":"Liberation Sans","labelFontSize":35,"labelColor":"#262626","labelPadding":5,"labelFlush":35,"labelOverlap":false,"labelBound":false,"offset":-132.25,"title":null}},"y":{"datum":-0.13,"type":"quantitative","scale":{"domain":[-5.3057,13.3],"reverse":true,"nice":false,"zero":false},"axis":null},"text":{"value":"IV, Random, 95% CI"}}},
{"mark":{"type":"text","align":"right","fontSize":35,"color":"#333333"},"encoding":{"x":{"datum":0.754,"type":"quantitative","scale":{"type":"log","domain":[0.01,138],"nice":false},"axis":{"values":[0.01,0.1,1,10,100],"format":"~g","domain":false,"grid":false,"ticks":true,"tickSize":24,"tickWidth":3,"tickColor":"#444444","labelFont":"Liberation Sans","labelFontSize":35,"labelColor":"#262626","labelPadding":5,"labelFlush":35,"labelOverlap":false,"labelBound":false,"offset":-132.25,"title":null}},"y":{"datum":12.33,"type":"quantitative","scale":{"domain":[-5.3057,13.3],"reverse":true,"nice":false,"zero":false},"axis":null},"text":{"value":"Favours stroma-poor"}}},
{"mark":{"type":"text","align":"left","fontSize":35,"color":"#333333"},"encoding":{"x":{"datum":1.19,"type":"quantitative","scale":{"type":"log","domain":[0.01,138],"nice":false},"axis":{"values":[0.01,0.1,1,10,100],"format":"~g","domain":false,"grid":false,"ticks":true,"tickSize":24,"tickWidth":3,"tickColor":"#444444","labelFont":"Liberation Sans","labelFontSize":35,"labelColor":"#262626","labelPadding":5,"labelFlush":35,"labelOverlap":false,"labelBound":false,"offset":-132.25,"title":null}},"y":{"datum":12.33,"type":"quantitative","scale":{"domain":[-5.3057,13.3],"reverse":true,"nice":false,"zero":false},"axis":null},"text":{"value":"Favours stroma-rich"}}}
]}
]}
]
}
